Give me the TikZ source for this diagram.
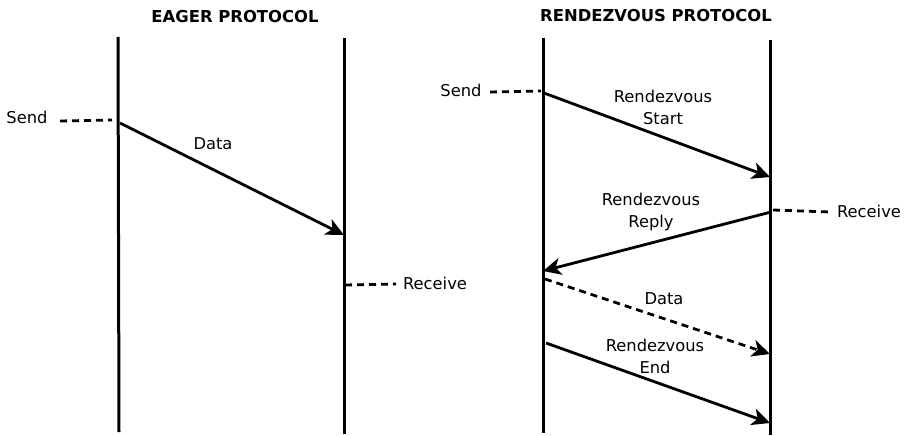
\documentclass[tikz,border=0pt]{standalone}
\usepackage{fontspec}
\setmainfont{DejaVu Sans}
\usetikzlibrary{arrows.meta}
\begin{document}
\begin{tikzpicture}[x=1pt,y=-1pt,
  lifeline/.style={line width=3pt},
  msg/.style={line width=2.8pt,-{Stealth[length=18pt,width=17pt,inset=5pt]}},
  msgdash/.style={msg,dash pattern=on 7pt off 5pt},
  marker/.style={line width=2.8pt,dash pattern=on 7pt off 5pt},
  lbl/.style={font=\fontsize{16.3}{22}\selectfont,inner sep=0pt,align=center},
  ttl/.style={font=\fontsize{16.4}{19}\selectfont\bfseries,inner sep=0pt}]
\useasboundingbox (0,0) rectangle (907,436);

% titles
\node[ttl] (t1) at (235,17) {EAGER PROTOCOL};
\node[ttl] (t2) at (656,16) {RENDEZVOUS PROTOCOL};

% lifelines
\coordinate (a1) at (118,37);  \coordinate (a2) at (119,432);
\coordinate (b1) at (344,38);  \coordinate (b2) at (344,434);
\coordinate (c1) at (543,38);  \coordinate (c2) at (543,433);
\coordinate (d1) at (770,40);  \coordinate (d2) at (770,435);
\draw[lifeline] (a1) -- (a2);
\draw[lifeline] (b1) -- (b2);
\draw[lifeline] (c1) -- (c2);
\draw[lifeline] (d1) -- (d2);

% eager protocol
\node[lbl] (es) at (27,117) {Send};
\coordinate (esa) at (60,121); \coordinate (esb) at (112,120);
\draw[marker] (esa) -- (esb);
\coordinate (ed1) at (120,123); \coordinate (ed2) at (344,235);
\draw[msg] (ed1) -- (ed2);
\node[lbl] (edl) at (213,144) {Data};
\coordinate (era) at (345,285); \coordinate (erb) at (396,284);
\draw[marker] (era) -- (erb);
\node[lbl] (er) at (435,283) {Receive};

% rendezvous protocol
\node[lbl] (rs) at (461,90) {Send};
\coordinate (rsa) at (490,92); \coordinate (rsb) at (541,91);
\draw[marker] (rsa) -- (rsb);
\coordinate (s1) at (544,93); \coordinate (s2) at (770,177);
\draw[msg] (s1) -- (s2);
\node[lbl] (sl) at (663,107) {Rendezvous\\Start};

\coordinate (rr1) at (771,212); \coordinate (rr2) at (543,271);
\draw[msg] (rr1) -- (rr2);
\node[lbl] (rl) at (651,212) {Rendezvous\\Reply};
\coordinate (rra) at (773,210); \coordinate (rrb) at (830,212);
\draw[marker] (rra) -- (rrb);
\node[lbl] (rcv) at (869,211) {Receive};

\coordinate (dd1) at (545,279); \coordinate (dd2) at (770,354);
\draw[msgdash] (dd1) -- (dd2);
\node[lbl] (ddl) at (664,299) {Data};

\coordinate (en1) at (546,343); \coordinate (en2) at (770,423);
\draw[msg] (en1) -- (en2);
\node[lbl] (enl) at (655,356) {Rendezvous\\End};
\end{tikzpicture}
\end{document}
